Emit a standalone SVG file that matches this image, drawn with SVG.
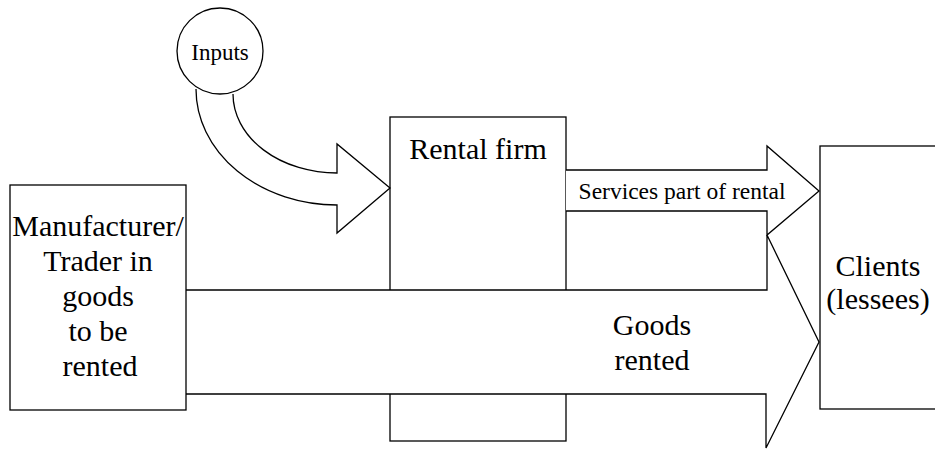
<svg xmlns="http://www.w3.org/2000/svg" width="935" height="450" viewBox="0 0 935 450">
<style>
.shape{fill:#fff;stroke:#000;stroke-width:1.3}
text{font-family:'Liberation Serif','Times New Roman','DejaVu Serif',serif;fill:#000;text-anchor:middle}
.big{font-size:30px}
.mid{font-size:23.5px}
.sm{font-size:23px}
</style>
<rect width="935" height="450" fill="#fff"/>
<g id="rental">
<rect class="shape" x="390" y="117" width="176" height="324"/>
<text class="big" x="478" y="159">Rental firm</text>
</g>
<g id="connectors">
<path id="inputs-arrow" class="shape" d="M196,89 A141,116 0 0 0 337,205 L337,233 L390,188 L337,144 L337,173 A104,79 0 0 1 233,94"/>
<path id="services-arrow" class="shape" d="M566,170 H767 V146 L819,191 L767,235 V211 H566"/>
<path id="goods-arrow" class="shape" d="M186,290 H767 V235 L819,342 L766,448 V394 H186"/>
<text class="mid" x="682" y="199">Services part of rental</text>
<text class="big" x="652" y="335">Goods</text>
<text class="big" x="652" y="370">rented</text>
</g>
<g id="inputs">
<circle class="shape" cx="220" cy="51" r="43"/>
<text class="sm" x="220" y="60">Inputs</text>
</g>
<g id="manufacturer">
<rect class="shape" x="10" y="185" width="176" height="225"/>
<text class="big" x="98" y="236">Manufacturer/</text>
<text class="big" x="98" y="271">Trader in</text>
<text class="big" x="98" y="306">goods</text>
<text class="big" x="98" y="341">to be</text>
<text class="big" x="100" y="376">rented</text>
</g>
<g id="clients">
<rect class="shape" x="820" y="146" width="118" height="263"/>
<text class="big" x="878" y="276">Clients</text>
<text class="big" x="878" y="309">(lessees)</text>
</g>
</svg>
